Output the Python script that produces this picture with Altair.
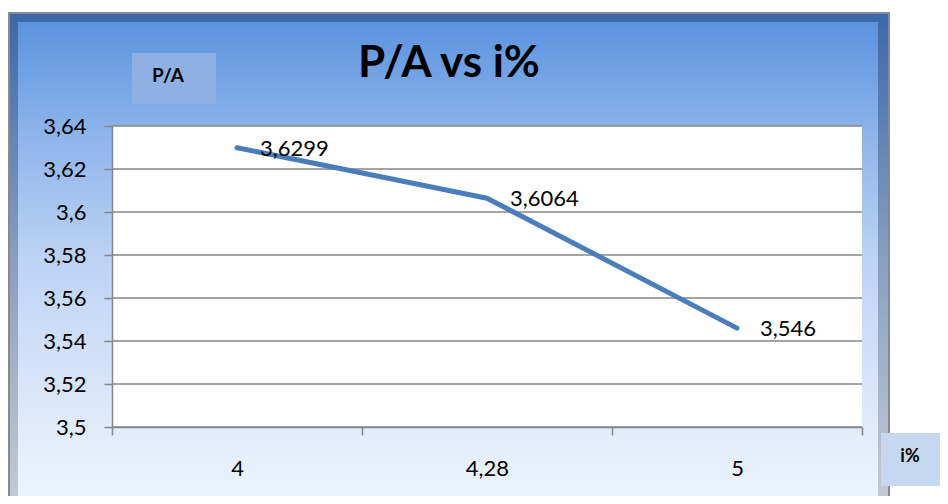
import altair as alt
import pandas as pd

# ---- data ----
categories = ["4", "4,28", "5"]
pa_values = [3.6299, 3.6064, 3.546]
y_ticks = [3.5, 3.52, 3.54, 3.56, 3.58, 3.6, 3.62, 3.64]
title_text = "P/A vs i%"
y_title = "P/A"
x_title = "i%"

W, H = 750, 301

df = pd.DataFrame({"cat": categories, "val": pa_values})
grid_df = pd.DataFrame({"v": y_ticks})
one = pd.DataFrame({"k": [0]})

FONT = "Lato"
GRID = "#868686"

x_enc = alt.X(
    "cat:N",
    sort=categories,
    scale=alt.Scale(paddingInner=0, paddingOuter=0),
    axis=alt.Axis(
        title=None,
        tickBand="extent",
        domainColor=GRID,
        domainWidth=1.5,
        tickColor=GRID,
        tickWidth=1.5,
        tickSize=8,
        labelFont=FONT,
        labelFontSize=22,
        labelColor="black",
        labelAngle=0,
        labelBaseline="middle",
        labelPadding=33,
        grid=False,
        zindex=1,
    ),
)
y_enc = alt.Y(
    "val:Q",
    scale=alt.Scale(domain=[3.5, 3.64], nice=False, zero=False),
    axis=alt.Axis(
        title=None,
        values=y_ticks,
        labelExpr="replace(format(datum.value, '~g'), '.', ',')",
        domainColor=GRID,
        domainWidth=1.5,
        tickColor=GRID,
        tickWidth=1.5,
        tickSize=8,
        labelFont=FONT,
        labelFontSize=22,
        labelColor="black",
        labelPadding=18,
        grid=False,
        zindex=1,
    ),
)

frame_grad = {
    "gradient": "linear", "x1": 0, "y1": 0, "x2": 0, "y2": 1,
    "stops": [
        {"offset": 0, "color": "#5b93de"},
        {"offset": 0.22, "color": "#8ab2ea"},
        {"offset": 0.5, "color": "#bdd3f4"},
        {"offset": 0.85, "color": "#e0ebfb"},
        {"offset": 1, "color": "#ecf3fd"},
    ],
}
bevel_grad = {
    "gradient": "linear", "x1": 0, "y1": 0, "x2": 0, "y2": 1,
    "stops": [
        {"offset": 0, "color": "#3c68a8"},
        {"offset": 0.5, "color": "#8aa0c0"},
        {"offset": 1, "color": "#c8ccd4"},
    ],
}

base1 = alt.Chart(one)

outer = base1.mark_rect(fill="#858a93").encode(
    x=alt.value(-104), x2=alt.value(778), y=alt.value(-114), y2=alt.value(390))
bevel = base1.mark_rect(fill=bevel_grad).encode(
    x=alt.value(-102), x2=alt.value(776), y=alt.value(-112), y2=alt.value(390))
inner = base1.mark_rect(fill=frame_grad).encode(
    x=alt.value(-94), x2=alt.value(766), y=alt.value(-104), y2=alt.value(371))
plot_bg = base1.mark_rect(fill="white").encode(
    x=alt.value(0), x2=alt.value(W), y=alt.value(0), y2=alt.value(H))

grid = alt.Chart(grid_df).mark_rule(color=GRID, strokeWidth=1.5).encode(
    y=alt.Y("v:Q"), x=alt.value(0), x2=alt.value(W))

line = alt.Chart(df).mark_line(color="#4a7ebb", strokeWidth=5, strokeCap="round",
                               strokeJoin="round").encode(x=x_enc, y=y_enc)

labels = alt.Chart(df).transform_calculate(
    lab="replace(toString(datum.val), '.', ',')"
).mark_text(align="left", baseline="middle", dx=23, dy=1, font=FONT,
            fontSize=22, color="black").encode(
    x=alt.X("cat:N", sort=categories), y=alt.Y("val:Q"), text="lab:N")

title = base1.mark_text(font=FONT, fontSize=44, fontWeight="bold", color="black",
                        align="center", baseline="middle").encode(
    x=alt.value(337), y=alt.value(-62), text=alt.value(title_text))

ybox = base1.mark_rect(fill="#8eb0e2").encode(
    x=alt.value(20), x2=alt.value(104), y=alt.value(-73), y2=alt.value(-22))
ytxt = base1.mark_text(font=FONT, fontSize=19, fontWeight="bold", color="black",
                       align="center", baseline="middle").encode(
    x=alt.value(56), y=alt.value(-50), text=alt.value(y_title))

xbox = base1.mark_rect(fill="#c6d8f0").encode(
    x=alt.value(769), x2=alt.value(840), y=alt.value(307), y2=alt.value(360))
xtxt = base1.mark_text(font=FONT, fontSize=18, fontWeight="bold", color="black",
                       align="center", baseline="middle").encode(
    x=alt.value(798), y=alt.value(331), text=alt.value(x_title))

chart = alt.layer(
    outer, bevel, inner, plot_bg, grid, line, labels, title, ybox, ytxt, xbox, xtxt
).properties(
    width=W, height=H,
    autosize=alt.AutoSizeParams(type="none"),
    padding={"left": 104, "top": 118, "right": 78, "bottom": 69},
    background="white",
).configure_view(stroke=None)

chart.save("out.html", embed_options={"renderer": "svg", "actions": False})
